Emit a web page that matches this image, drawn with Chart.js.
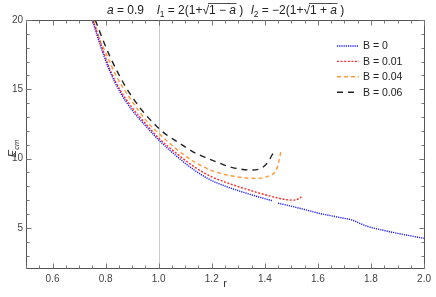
<!DOCTYPE html>
<html><head><meta charset="utf-8">
<script src="https://cdn.jsdelivr.net/npm/chart.js@4.4.0/dist/chart.umd.min.js"></script>
<style>html,body{margin:0;padding:0;background:#fff}</style>
</head><body>
<canvas id="c" width="436" height="297" style="width:436px;height:297px;display:block"></canvas>
<script>
// ---- data ----
const rB0 = [0.75,0.779,0.816,0.853,0.903,0.948,1.0,1.072,1.134,1.196,1.258,1.32,1.395,1.43,1.44,1.45,1.482,1.55,1.606,1.65,1.70,1.73,1.76,1.79,1.854,1.9,1.95,2.0];
const eB0 = [20,18.22,16.3,14.85,13.41,12.42,11.34,10.1,9.17,8.45,7.96,7.56,7.13,6.95,null,6.77,6.64,6.32,6.04,5.87,5.68,5.56,5.3,5.09,4.79,4.6,4.42,4.24];
const rB1 = [0.753,0.78,0.816,0.853,0.903,0.948,1.0,1.072,1.134,1.196,1.258,1.32,1.395,1.45,1.482,1.507,1.525,1.538];
const eB1 = [20,18.4,16.45,15.0,13.6,12.58,11.48,10.3,9.4,8.72,8.25,7.85,7.42,7.15,7.03,7.0,7.08,7.24];
const rB4 = [0.754,0.775,0.798,0.841,0.891,0.925,0.96,1.0,1.072,1.134,1.196,1.258,1.32,1.37,1.40,1.42,1.435,1.445,1.451,1.456,1.46];
const eB4 = [20,18.7,17.74,15.93,14.37,13.45,12.58,11.82,10.61,9.77,9.17,8.81,8.62,8.57,8.64,8.78,8.95,9.25,9.65,10.05,10.49];
const rB6 = [0.761,0.785,0.816,0.847,0.878,0.909,0.934,0.991,1.022,1.066,1.103,1.14,1.184,1.221,1.265,1.308,1.351,1.38,1.395,1.41,1.42,1.426,1.432];
const eB6 = [20,18.8,17.38,16.17,15.09,14.2,13.55,12.35,11.82,11.26,10.8,10.38,10.01,9.73,9.41,9.24,9.17,9.25,9.41,9.7,10.0,10.22,10.4];
const seriesLabels = ['B = 0','B = 0.01','B = 0.04','B = 0.06'];
const xTicks = [0.6,0.8,1.0,1.2,1.4,1.6,1.8,2.0];
const yTicks = [5,10,15,20];

const pts = (r,e)=>r.map((x,i)=>({x:x,y:e[i]}));
const styles = [
  {c:'#1a1aff', d:[1.2,1], w:1.4},
  {c:'#ff2a2a', d:[2,1.6], w:1.4},
  {c:'#ff9a3c', d:[4,3], w:1.4},
  {c:'#222222', d:[6,5], w:1.4}
];
const data = [pts(rB0,eB0),pts(rB1,eB1),pts(rB4,eB4),pts(rB6,eB6)];

const framePlugin = {
  id:'frame',
  beforeDatasetsDraw(chart){
    const {ctx,chartArea:a,scales:{x}} = chart;
    ctx.save();
    ctx.strokeStyle='#cccccc'; ctx.lineWidth=1;
    const px=Math.round(x.getPixelForValue(1.0))+0.5;
    ctx.beginPath(); ctx.moveTo(px,a.top); ctx.lineTo(px,a.bottom); ctx.stroke();
    ctx.restore();
  },
  afterDraw(chart){
    const {ctx,chartArea:a,scales:{x,y}} = chart;
    ctx.save();
    ctx.strokeStyle='#555'; ctx.lineWidth=1;
    const L=Math.round(a.left)+0.5,R=Math.round(a.right)+0.5,T=Math.round(a.top)+0.5,B=Math.round(a.bottom)+0.5;
    ctx.beginPath(); ctx.rect(L,T,R-L,B-T); ctx.stroke();
    ctx.strokeStyle='#777';
    ctx.beginPath();
    for(let i=0;i<=30;i++){
      const v=0.5+i*0.05; const major = xTicks.some(t=>Math.abs(t-v)<1e-6);
      const p=Math.round(x.getPixelForValue(v))+0.5; const len=major?5:3;
      ctx.moveTo(p,B); ctx.lineTo(p,B-len); ctx.moveTo(p,T); ctx.lineTo(p,T+len);
    }
    for(let v=3;v<=20;v++){
      const major = yTicks.includes(v);
      const p=Math.round(y.getPixelForValue(v))+0.5; const len=major?5:3;
      ctx.moveTo(L,p); ctx.lineTo(L+len,p); ctx.moveTo(R,p); ctx.lineTo(R-len,p);
    }
    ctx.stroke();
    // legend
    ctx.font='10.5px "Liberation Sans", Arial, sans-serif';
    ctx.textBaseline='middle'; ctx.fillStyle='#222';
    chart.data.datasets.forEach((ds,i)=>{
      const yy=46+i*15.4;
      ctx.save(); ctx.strokeStyle=ds.borderColor; ctx.lineWidth=ds.borderWidth; ctx.setLineDash(ds.borderDash);
      ctx.beginPath(); ctx.moveTo(337,yy); ctx.lineTo(359,yy); ctx.stroke(); ctx.restore();
      ctx.fillText(ds.label,363,yy+0.5);
    });
    // axis titles
    ctx.fillStyle='#333';
    ctx.font='11px "Liberation Sans", Arial, sans-serif'; ctx.textAlign='center'; ctx.textBaseline='alphabetic';
    ctx.fillText('r',(a.left+a.right)/2,287);
    ctx.save(); ctx.translate(16,149); ctx.rotate(-Math.PI/2);
    ctx.font='italic 11px "Liberation Sans", Arial, sans-serif'; ctx.textAlign='left';
    const wE=ctx.measureText('E').width;
    ctx.fillText('E',-(wE+9)/2,0);
    ctx.font='italic 7.5px "Liberation Sans", Arial, sans-serif';
    ctx.fillText('cm',-(wE+9)/2+wE,2.5);
    ctx.restore();
    // title
    const base=14;
    const N='12px "Liberation Sans", Arial, sans-serif', I='italic 12px "Liberation Sans", Arial, sans-serif', S='8.5px "Liberation Sans", Arial, sans-serif';
    ctx.fillStyle='#222'; ctx.textAlign='left';
    function run(x0,segs){
      let xx=x0;
      segs.forEach(s=>{
        ctx.font=s.f; const w=ctx.measureText(s.t).width;
        ctx.fillText(s.t,xx,base+(s.dy||0));
        if(s.ov){ ctx.save(); ctx.strokeStyle='#222'; ctx.lineWidth=0.8; ctx.beginPath(); ctx.moveTo(xx-1,base-10.5); ctx.lineTo(xx+w+0.5,base-10.5); ctx.stroke(); ctx.restore(); }
        xx+=w;
      });
    }
    run(107,[{t:'a',f:I},{t:' = 0.9',f:N}]);
    run(157,[{t:'l',f:I},{t:'1',f:S,dy:3},{t:' = 2(1+',f:N},{t:'√',f:N},{t:'1 − ',f:N,ov:1},{t:'a',f:I,ov:1},{t:' )',f:N}]);
    run(251,[{t:'l',f:I},{t:'2',f:S,dy:3},{t:' = −2(1+',f:N},{t:'√',f:N},{t:'1 + ',f:N,ov:1},{t:'a',f:I,ov:1},{t:' )',f:N}]);
    ctx.restore();
  }
};

new Chart(document.getElementById('c'),{
  type:'scatter',
  data:{datasets:data.map((d,i)=>({
    label:seriesLabels[i], data:d, showLine:true, spanGaps:false,
    borderColor:styles[i].c, borderDash:styles[i].d, borderWidth:styles[i].w,
    pointRadius:0, cubicInterpolationMode:'monotone', fill:false
  }))},
  options:{
    responsive:false, animation:false, devicePixelRatio:1,
    layout:{padding:{top:20,right:7,left:0,bottom:0}},
    plugins:{legend:{display:false},tooltip:{enabled:false},title:{display:false}},
    scales:{
      x:{type:'linear',min:0.5,max:2.0,
        grid:{display:false,drawTicks:false}, border:{display:false},
        ticks:{padding:5,color:'#444',font:{size:10,family:'"Liberation Sans", Arial, sans-serif'},callback:v=>Number(v).toFixed(1),maxRotation:0,autoSkip:false},
        afterBuildTicks:s=>{s.ticks=xTicks.map(v=>({value:v}));},
        afterFit:s=>{s.height=29;}
      },
      y:{type:'linear',min:2.1,max:20,
        grid:{display:false,drawTicks:false}, border:{display:false},
        ticks:{padding:3,color:'#444',font:{size:10,family:'"Liberation Sans", Arial, sans-serif'},autoSkip:false},
        afterBuildTicks:s=>{s.ticks=yTicks.map(v=>({value:v}));},
        afterFit:s=>{s.width=26;}
      }
    }
  },
  plugins:[framePlugin]
});
</script>
</body></html>
